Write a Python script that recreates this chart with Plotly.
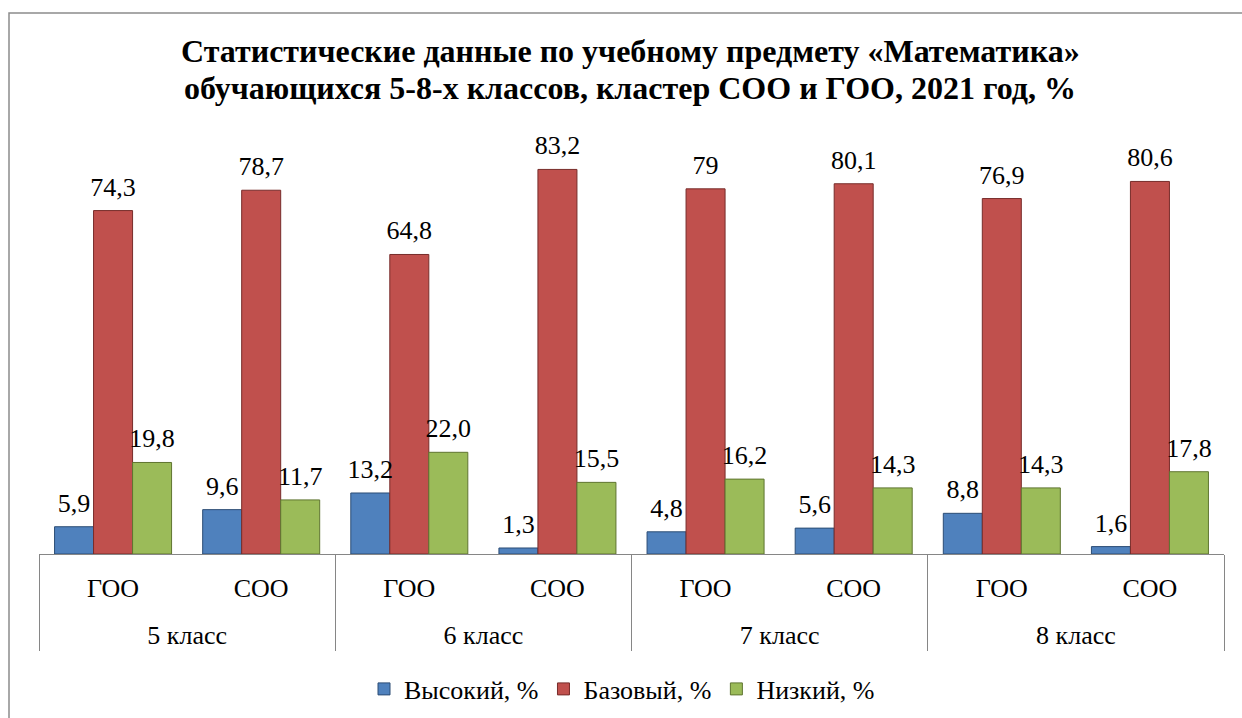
import plotly.graph_objects as go

grades = ["5 класс", "5 класс", "6 класс", "6 класс", "7 класс", "7 класс", "8 класс", "8 класс"]
clusters = ["ГОО", "СОО", "ГОО", "СОО", "ГОО", "СОО", "ГОО", "СОО"]

high = [5.9, 9.6, 13.2, 1.3, 4.8, 5.6, 8.8, 1.6]
base = [74.3, 78.7, 64.8, 83.2, 79, 80.1, 76.9, 80.6]
low = [19.8, 11.7, 22.0, 15.5, 16.2, 14.3, 14.3, 17.8]

high_labels = ["5,9", "9,6", "13,2", "1,3", "4,8", "5,6", "8,8", "1,6"]
base_labels = ["74,3", "78,7", "64,8", "83,2", "79", "80,1", "76,9", "80,6"]
low_labels = ["19,8", "11,7", "22,0", "15,5", "16,2", "14,3", "14,3", "17,8"]

title_lines = [
    "Статистические данные по учебному предмету «Математика»",
    "обучающихся 5-8-х классов, кластер СОО и ГОО, 2021 год, %",
]

series = [
    ("Высокий, %", high, high_labels, "#4F81BD", "#2C4D75"),
    ("Базовый, %", base, base_labels, "#C0504D", "#772C2A"),
    ("Низкий, %", low, low_labels, "#9BBB59", "#5F7530"),
]

FONT = "Liberation Serif"
W, H = 1242, 718
L, R, T, B = 39, 18, 138, 164
pw = W - L - R
ph = H - T - B

# invisible padding so the second tick level sits lower (like the reference)
pad_span = "<span style='font-size:51px'>\u00a0</span>"
cluster_ticks = [pad_span + c + pad_span for c in clusters]

fig = go.Figure()
for i, (name, vals, labels, color, edge) in enumerate(series):
    fig.add_trace(go.Bar(
        name=name,
        x=[grades, cluster_ticks],
        y=vals,
        offsetgroup=str(i),
        marker=dict(color=color, line=dict(color=edge, width=1)),
        hoverinfo="skip",
    ))
for i, (name, vals, labels, color, edge) in enumerate(series):
    fig.add_trace(go.Scatter(
        x=[grades, cluster_ticks],
        y=vals,
        mode="markers+text",
        text=labels,
        textposition="top center",
        textfont=dict(family=FONT, size=26, color="black"),
        marker=dict(size=12, opacity=0),
        offsetgroup=str(i),
        showlegend=False,
        hoverinfo="skip",
        cliponaxis=False,
    ))

fig.update_layout(
    width=W, height=H,
    margin=dict(l=L, r=R, t=T, b=B, autoexpand=False),
    paper_bgcolor="white",
    plot_bgcolor="white",
    barmode="group",
    bargap=0.21,
    bargroupgap=0,
    scattermode="group",
    scattergap=0.21,
    font=dict(family=FONT, size=26, color="black"),
    legend=dict(
        orientation="h",
        x=(622 - L) / pw, xanchor="center",
        y=-(689 - (H - B)) / ph, yanchor="middle",
        font=dict(family=FONT, size=26, color="black"),
        traceorder="normal",
    ),
    xaxis=dict(
        type="multicategory",
        showline=True, linecolor="#868686", linewidth=1,
        showdividers=True, dividercolor="#868686", dividerwidth=1,
        ticks="",
        ticklabelstandoff=11,
        tickfont=dict(family=FONT, size=26, color="black"),
        showgrid=False,
    ),
    yaxis=dict(
        range=[0, 90],
        visible=False,
        showgrid=False,
        zeroline=False,
    ),
    showlegend=True,
)

# title (two lines, positioned like the reference)
for line, ymid in zip(title_lines, [51, 88]):
    fig.add_annotation(
        text="<b>" + line + "</b>",
        xref="paper", yref="paper",
        x=(630 - L) / pw, xanchor="center",
        y=((H - B) - ymid) / ph, yanchor="middle",
        showarrow=False,
        font=dict(family=FONT, size=32, color="black"),
    )

# outer chart frame
fig.add_shape(
    type="rect", xref="paper", yref="paper",
    x0=(9 - L) / pw, x1=(W + 20 - L) / pw,
    y0=-(H + 20 - (H - B)) / ph, y1=((H - B) - 13) / ph,
    line=dict(color="#8C8C8C", width=1.5),
    fillcolor="rgba(0,0,0,0)",
    layer="below",
)

fig.write_html(
    "out.html",
    config={"displayModeBar": False},
    post_script="document.body.style.margin='0';document.body.style.overflow='hidden';",
)
